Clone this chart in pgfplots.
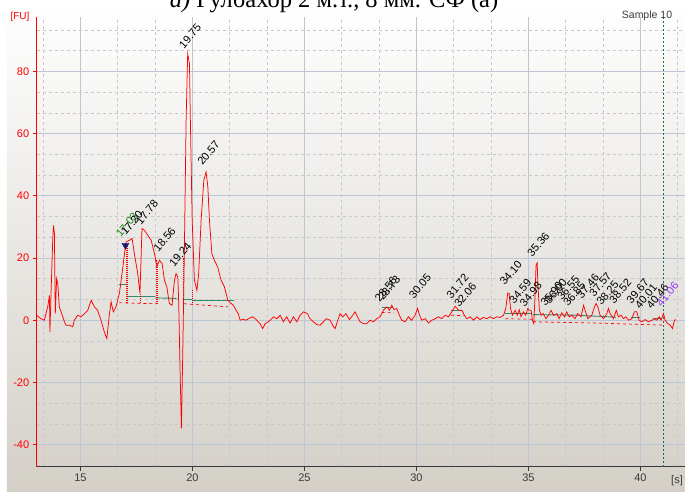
\documentclass[border=0pt]{standalone}
\usepackage{pgfplots}
\pgfplotsset{compat=1.18}
\usepackage{fontspec}
\setmainfont{Liberation Sans}
\newfontfamily\titlefont{Liberation Serif}
\definecolor{bgbot}{RGB}{212,208,200}
\definecolor{majgrid}{RGB}{188,198,212}
\definecolor{mingrid}{RGB}{200,200,200}
\definecolor{pkgreen}{RGB}{46,139,110}
\definecolor{lblgreen}{RGB}{20,140,20}
\definecolor{navy}{RGB}{25,25,110}
\definecolor{purp}{RGB}{150,60,255}
\definecolor{axgray}{RGB}{60,60,60}
\definecolor{vgreen}{RGB}{20,110,80}
\tikzset{peak/.style={font=\fontsize{11}{11}\selectfont, rotate=50, anchor=south west, inner sep=0.5pt, text=black}}
\begin{document}
\begin{tikzpicture}[x=1pt,y=1pt]
\fill[white] (-36.7,-24.3) rectangle (648.3,466.7);
\shade[top color=white,bottom color=bgbot] (-29.7,-24.3) rectangle (648.3,466.7);
\begin{axis}[
  scale only axis, width=648.3pt, height=449.7pt,
  xmin=13.05, xmax=41.99, ymin=-47.1, ymax=97.5,
  axis lines=left, axis line style={-},
  x axis line style={axgray, line width=1pt},
  y axis line style={red, line width=0.8pt},
  xtick={15,20,25,30,35,40}, ytick={-40,-20,0,20,40,60,80},
  minor xtick={13.333,16.667,18.333,21.667,23.333,26.667,28.333,31.667,33.333,36.667,38.333,41.667},
  minor ytick={-46.667,-33.333,-26.667,-13.333,-6.667,6.667,13.333,26.667,33.333,46.667,53.333,66.667,73.333,86.667,93.333},
  grid=both,
  major grid style={majgrid, line width=0.9pt},
  minor grid style={mingrid, dash pattern=on 3pt off 3pt, line width=0.6pt},
  tick align=outside, major tick length=4pt, minor tick length=0pt,
  xtick style={axgray, line width=0.8pt},
  ytick style={red, line width=0.8pt},
  x tick label style={font=\fontsize{11}{11}\selectfont, text=axgray},
  y tick label style={font=\fontsize{11}{11}\selectfont, text=red},
  /pgf/number format/assume math mode=true,
]
% baselines (green)
\addplot[pkgreen, line width=0.9pt] coordinates {(16.74,11.5)(17.04,11.5)};
\addplot[pkgreen, line width=0.9pt] coordinates {(17.06,7.7)(18.35,7.7)};
\addplot[pkgreen, line width=0.9pt] coordinates {(18.35,7.2)(19.30,7.0)};
\addplot[pkgreen, line width=0.9pt] coordinates {(19.64,6.6)(19.99,6.6)};
\addplot[pkgreen, line width=0.9pt] coordinates {(19.99,6.4)(21.85,6.4)};
\addplot[pkgreen, line width=0.9pt] coordinates {(28.45,4.2)(28.97,4.2)};
\addplot[pkgreen, line width=0.9pt] coordinates {(31.55,3.1)(32.05,3.1)};
\addplot[pkgreen, line width=0.9pt] coordinates {(33.97,2.1)(34.55,2.1)};
\addplot[pkgreen, line width=0.9pt] coordinates {(34.55,2.3)(35.15,2.3)};
\addplot[pkgreen, line width=0.9pt] coordinates {(35.20,1.8)(37.40,1.6)};
\addplot[pkgreen, line width=0.9pt] coordinates {(37.40,1.5)(38.90,1.0)};
\addplot[pkgreen, line width=0.9pt] coordinates {(39.60,1.0)(40.00,1.0)};
\addplot[pkgreen, line width=0.9pt] coordinates {(40.55,0.5)(40.95,0.5)};
% red dashed baselines
\addplot[red, dashed, line width=0.7pt] coordinates {(16.74,5.6)(18.38,5.3)};
\addplot[red, dashed, line width=0.7pt] coordinates {(19.62,5.3)(21.60,4.3)};
\addplot[red, dashed, line width=0.7pt] coordinates {(28.45,2.5)(29.00,2.4)};
\addplot[red, dashed, line width=0.7pt] coordinates {(31.55,1.6)(32.10,1.5)};
\addplot[red, dashed, line width=0.7pt] coordinates {(33.97,0.5)(35.15,0.3)};
\addplot[red, dashed, line width=0.7pt] coordinates {(35.20,-0.5)(38.00,-0.9)(41.10,-1.6)};
% red dotted verticals
\addplot[red, densely dotted, line width=1pt] coordinates {(17.06,5.5)(17.06,24)};
\addplot[red, densely dotted, line width=1pt] coordinates {(17.10,5.5)(17.10,24)};
\addplot[red, densely dotted, line width=1pt] coordinates {(17.68,5.4)(17.68,8.6)};
\addplot[red, densely dotted, line width=1pt] coordinates {(18.38,5.3)(18.38,19.5)};
\addplot[red, densely dotted, line width=1pt] coordinates {(18.43,5.3)(18.43,18.5)};
\addplot[red, densely dotted, line width=1pt] coordinates {(19.62,5.2)(19.62,20)};
\addplot[red, densely dotted, line width=1pt] coordinates {(19.99,5.0)(19.99,10)};
% upper marker line
\addplot[vgreen, dash pattern=on 2pt off 2pt, line width=0.8pt] coordinates {(41.03,-47.1)(41.03,97.5)};
% trace
\addplot[red, line width=0.75pt] coordinates {
(13.05,1.6)(13.24,0.5)(13.39,0)(13.54,4.3)(13.62,8.0)(13.64,-3.8)(13.69,8.6)(13.77,26.8)(13.80,30.5)(13.84,27.9)(13.88,2.1)(13.94,13.4)(13.99,11.8)(14.06,4.3)(14.14,2.7)(14.29,-0.5)(14.36,-1.6)(14.51,-1.6)(14.66,-2.1)(14.73,0)(14.88,1.6)(15.03,1.1)(15.18,2.1)(15.33,3.2)(15.48,6.4)(15.63,4.3)(15.77,3.2)(15.92,0)(16.07,-3.8)(16.18,-5.9)(16.30,2.1)(16.37,5.9)(16.47,2.7)(16.59,4.3)(16.74,8.6)(16.86,15.0)(16.97,21.4)(17.04,25.2)(17.19,25.7)(17.31,26.3)(17.41,21.4)(17.56,15.0)(17.66,8.6)(17.75,29.5)(17.86,28.9)(18.01,27.3)(18.16,25.7)(18.31,21.4)(18.41,17.1)(18.53,19.3)(18.65,18.2)(18.75,12.9)(18.86,10.7)(18.97,5.4)(19.09,4.8)(19.20,12.9)(19.27,15.0)(19.35,13.9)(19.39,5.4)(19.45,-16.1)(19.51,-34.8)(19.57,-10.7)(19.64,21.4)(19.72,64.3)(19.79,85.7)(19.87,82.5)(19.91,64.3)(19.99,32.2)(20.09,12.9)(20.20,9.6)(20.28,15.0)(20.39,32.2)(20.51,45.0)(20.61,47.7)(20.69,42.9)(20.76,32.2)(20.87,21.4)(20.98,19.3)(21.13,17.1)(21.28,12.9)(21.43,10.7)(21.58,6.4)(21.73,5.4)(21.83,4.8)(21.95,3.2)(22.05,2.1)(22.13,0)(22.25,0.3)(22.40,0)(22.55,0.7)(22.69,1.1)(22.84,0.3)
(22.87,0)(23.02,-1.1)(23.14,-2.7)(23.25,-1.1)(23.39,-0.5)(23.47,0)(23.62,1.1)(23.77,0.5)(23.92,1.6)(24.06,-0.5)(24.21,1.1)(24.36,-0.9)(24.51,1.1)(24.66,-0.5)(24.81,1.6)(24.96,2.7)(25.14,2.1)(25.25,0.5)(25.40,-0.5)(25.55,-1.4)(25.70,-1.6)(25.85,-0.5)(25.97,0.5)(26.15,0)(26.30,-2.1)(26.37,-2.7)(26.47,-0.5)(26.59,2.1)(26.71,1.1)(26.86,2.1)(27.01,0.2)(27.16,1.6)(27.26,2.7)(27.37,1.1)(27.49,-0.5)(27.64,-1.1)(27.78,-1.1)(27.93,0)(28.08,-0.5)(28.23,0.5)(28.38,1.1)(28.53,3.2)(28.68,4.3)(28.80,3.2)(28.90,4.8)(29.00,3.4)(29.12,3.8)(29.24,1.6)(29.35,0)(29.50,-0.5)(29.64,1.1)(29.79,0)(29.94,1.6)(30.05,3.8)(30.14,1.6)(30.24,0)(30.39,0.5)(30.54,-0.9)(30.69,0)(30.84,0.5)(30.98,1.1)(31.13,0.5)(31.28,1.6)(31.43,1.1)(31.58,2.7)(31.73,4.5)(31.88,3.2)
(32.03,3.2)(32.14,1.6)(32.25,0.5)(32.40,1.1)(32.55,0)(32.70,1.1)(32.84,0.2)(32.99,0.9)(33.14,0.5)(33.29,1.1)(33.44,0.5)(33.59,1.1)(33.74,0.9)(33.89,1.6)(33.99,3.8)(34.08,8.8)(34.14,8.6)(34.20,3.8)(34.29,1.6)(34.41,3.2)(34.50,1.6)(34.59,3.4)(34.67,1.1)(34.78,2.7)(34.88,1.6)(34.97,3.8)(35.03,3.2)(35.12,3.2)(35.18,0)(35.24,-1.1)(35.30,8.6)(35.34,17.7)(35.39,18.4)(35.43,10.7)(35.49,3.2)(35.57,1.6)(35.67,2.1)(35.78,0.5)(35.90,1.6)(36.01,3.2)(36.12,1.6)(36.27,2.1)(36.37,0.5)(36.49,2.4)(36.61,1.1)(36.71,2.7)(36.82,1.1)(36.94,1.6)(37.08,0.5)(37.20,2.1)(37.35,1.1)(37.46,4.8)(37.53,3.2)(37.65,0.5)(37.83,1.6)(37.95,4.3)(38.02,5.4)(38.10,4.3)(38.20,1.6)(38.35,0.5)(38.50,2.1)(38.57,3.8)(38.65,2.1)(38.80,0.5)(38.92,3.2)(39.02,1.1)(39.14,1.6)(39.24,0.5)(39.35,1.1)(39.47,0)(39.62,0.5)(39.73,2.7)(39.84,2.7)(39.94,0)(40.06,-0.5)(40.21,0.2)(40.36,-0.5)(40.51,0)(40.63,0.5)(40.73,0)(40.84,1.1)(40.92,0)(41.03,2.1)(41.10,0)(41.22,-1.1)(41.33,-1.6)(41.43,-2.7)(41.52,0)(41.58,0.2)
};
% lower marker
\addplot[only marks, mark=triangle*, mark size=4pt, mark options={navy, rotate=180}] coordinates {(17.01,24.1)};
% peak labels
\node[peak, text=lblgreen] at (axis cs:16.82,26.2) {17.03};
\node[peak] at (axis cs:17.04,26.8) {17.20};
\node[peak] at (axis cs:17.72,30.2) {17.78};
\node[peak] at (axis cs:18.50,21.4) {18.56};
\node[peak] at (axis cs:19.20,16.6) {19.24};
\node[peak] at (axis cs:19.64,86.8) {19.75};
\node[peak] at (axis cs:20.46,49.3) {20.57};
\node[peak] at (axis cs:28.38,5.4) {28.56};
\node[peak] at (axis cs:28.53,5.9) {28.73};
\node[peak] at (axis cs:29.90,6.4) {30.05};
\node[peak] at (axis cs:31.58,6.4) {31.72};
\node[peak] at (axis cs:31.92,3.6) {32.06};
\node[peak] at (axis cs:33.96,10.7) {34.10};
\node[peak] at (axis cs:34.38,4.8) {34.59};
\node[peak] at (axis cs:34.85,3.8) {34.98};
\node[peak] at (axis cs:35.18,19.8) {35.36};
\node[peak] at (axis cs:35.78,4.0) {35.90};
\node[peak] at (axis cs:35.97,4.8) {36.00};
\node[peak] at (axis cs:36.52,5.9) {36.55};
\node[peak] at (axis cs:36.79,4.0) {36.85};
\node[peak] at (axis cs:37.40,6.4) {37.46};
\node[peak] at (axis cs:37.95,7.0) {37.57};
\node[peak] at (axis cs:38.28,4.3) {38.25};
\node[peak] at (axis cs:38.84,4.8) {38.52};
\node[peak] at (axis cs:39.62,4.8) {39.67};
\node[peak] at (axis cs:39.99,3.2) {40.01};
\node[peak] at (axis cs:40.51,3.2) {40.46};
\node[peak, text=purp] at (axis cs:40.95,3.8) {41.06};
\end{axis}
\node[anchor=base, inner sep=0, font=\titlefont\fontsize{24.5}{24.5}\selectfont] at (297.3,459.2) {\textit{а)} Гулбахор 2 м.т., 8 мм. СФ (а)};
\node[anchor=center, text=red, font=\fontsize{10}{10}\selectfont] at (-16.7,449.7) {[FU]};
\node[anchor=center, text=axgray, font=\fontsize{10.5}{10.5}\selectfont] at (610.3,450.7) {Sample 10};
\node[anchor=center, text=axgray, font=\fontsize{11}{11}\selectfont] at (640.3,-14.3) {[s]};
\pgfresetboundingbox
\useasboundingbox (-36.7,-24.3) rectangle (648.3,466.7);
\end{tikzpicture}
\end{document}
